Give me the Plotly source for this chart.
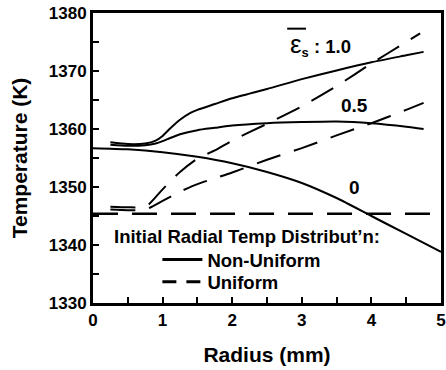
import plotly.graph_objects as go

# Radial temperature profiles (radius in mm, temperature in K)
r_nonuni_0 = [0, 0.5, 1.0, 1.5, 2.0, 2.5, 3.0, 3.5, 4.0, 4.5, 5.0]
T_nonuni_0 = [1356.7, 1356.5, 1356.0, 1355.2, 1354.1, 1352.6, 1350.7, 1348.1, 1345.0, 1341.9, 1338.8]

r_nonuni_05 = [0.25, 0.5, 0.75, 0.9, 1.0, 1.1, 1.25, 1.5, 1.75, 2.0, 2.5, 3.0, 3.5, 4.0, 4.5, 4.75]
T_nonuni_05 = [1357.3, 1357.1, 1357.2, 1357.5, 1357.9, 1358.4, 1359.1, 1359.8, 1360.2, 1360.6, 1361.0, 1361.2, 1361.3, 1361.0, 1360.4, 1360.0]

r_nonuni_10 = [0.25, 0.5, 0.75, 0.9, 1.0, 1.1, 1.25, 1.4, 1.5, 1.75, 2.0, 2.5, 3.0, 3.5, 4.0, 4.5, 4.75]
T_nonuni_10 = [1357.7, 1357.4, 1357.5, 1358.0, 1358.8, 1360.0, 1361.6, 1362.8, 1363.3, 1364.3, 1365.3, 1366.9, 1368.6, 1370.1, 1371.5, 1372.7, 1373.3]

r_uni_0 = [0, 5]
T_uni_0 = [1345.4, 1345.4]

r_uni_05 = [0.25, 0.5, 0.75, 1.0, 1.25, 1.5, 1.75, 2.0, 2.5, 3.0, 3.5, 4.0, 4.5, 4.75]
T_uni_05 = [1346.1, 1346.0, 1346.1, 1347.6, 1349.2, 1350.5, 1351.5, 1352.5, 1354.7, 1356.7, 1358.9, 1361.0, 1363.3, 1364.5]

r_uni_10 = [0.25, 0.5, 0.7, 0.8, 1.0, 1.25, 1.5, 1.75, 2.0, 2.5, 3.0, 3.5, 4.0, 4.5, 4.7]
T_uni_10 = [1346.6, 1346.5, 1346.5, 1347.0, 1349.6, 1352.6, 1354.9, 1356.3, 1358.0, 1360.9, 1363.9, 1367.4, 1371.3, 1375.0, 1376.5]

curve_labels = ["0", "0.5"]
curve_label_r = [3.76, 3.76]
curve_label_T = [1350.0, 1364.1]

legend_title = "Initial Radial Temp Distribut\u2019n:"
legend_names = ["Non-Uniform", "Uniform"]

FONT = "Liberation Sans, Arial, sans-serif"
DASH = "25px,14px"

fig = go.Figure()

solid = dict(color="black", width=2)
dashed = dict(color="black", width=2, dash=DASH)

for r, T in [(r_nonuni_0, T_nonuni_0), (r_nonuni_05, T_nonuni_05), (r_nonuni_10, T_nonuni_10)]:
    fig.add_trace(go.Scatter(x=r, y=T, mode="lines", line=dict(solid, shape="spline", smoothing=0.6),
                             showlegend=False))
fig.add_trace(go.Scatter(x=r_uni_0, y=T_uni_0, mode="lines",
                         line=dict(color="black", width=2.5, dash=DASH), showlegend=False))
for r, T in [(r_uni_05, T_uni_05), (r_uni_10, T_uni_10)]:
    fig.add_trace(go.Scatter(x=r, y=T, mode="lines", line=dict(dashed, shape="spline", smoothing=0.6),
                             showlegend=False))

# legend entries, one per legend box so each row can be placed on its own
fig.add_trace(go.Scatter(x=[None], y=[None], mode="lines", name=legend_names[0],
                         line=dict(color="black", width=3), legend="legend"))
fig.add_trace(go.Scatter(x=[None], y=[None], mode="lines", name=legend_names[1],
                         line=dict(color="black", width=3, dash="14px,10px"), legend="legend2"))

lab_font = dict(family=FONT, size=19, color="black", weight="bold")

for txt, xr, yt in zip(curve_labels, curve_label_r, curve_label_T):
    fig.add_annotation(x=xr, y=yt, text=txt, showarrow=False, font=lab_font,
                       xanchor="center", yanchor="middle")

# epsilon-bar label for the top pair of curves
fig.add_annotation(x=2.8, y=1374.5,
                   text="<span style='font-size:26px;font-weight:normal'>\u03b5</span><sub>s</sub> : 1.0",
                   showarrow=False, font=dict(lab_font, size=18.5), xanchor="left", yanchor="middle")
fig.add_shape(type="line", x0=2.79, x1=3.06, y0=1377.3, y1=1377.3,
              line=dict(color="black", width=2))

fig.add_annotation(x=0.0546, y=0.2276, xref="paper", yref="paper", text=legend_title,
                   showarrow=False, font=dict(lab_font, size=18.5), xanchor="left", yanchor="middle")

axis_common = dict(
    showline=True, linewidth=3, linecolor="black", mirror=True,
    ticks="inside", ticklen=6, tickwidth=2, tickcolor="black",
    showgrid=False, zeroline=False, automargin=False,
    tickfont=dict(family=FONT, size=17, color="black", weight="bold"),
)

fig.update_xaxes(range=[0, 5], dtick=1, tick0=0,
                 minor=dict(dtick=0.5, ticks="inside", ticklen=6, tickwidth=2, tickcolor="black"),
                 title=dict(text="Radius (mm)", font=dict(family=FONT, size=21, color="black", weight="bold"),
                            standoff=18),
                 **axis_common)
fig.update_yaxes(range=[1330, 1380], dtick=10, tick0=1330,
                 minor=dict(dtick=5, ticks="inside", ticklen=6, tickwidth=2, tickcolor="black"),
                 title=dict(text="Temperature (K)", font=dict(family=FONT, size=21, color="black", weight="bold"),
                            standoff=16),
                 **axis_common)

leg_font = dict(family=FONT, size=18.5, color="black", weight="bold")
fig.update_layout(
    width=446, height=370,
    margin=dict(l=93, r=5, t=13, b=67),
    paper_bgcolor="white", plot_bgcolor="white",
    legend=dict(x=0.185, y=0.148, xanchor="left", yanchor="middle", bgcolor="rgba(0,0,0,0)",
                font=leg_font, itemwidth=40),
    legend2=dict(x=0.185, y=0.072, xanchor="left", yanchor="middle", bgcolor="rgba(0,0,0,0)",
                 font=leg_font, itemwidth=40),
)

fig.write_html("out.html")
